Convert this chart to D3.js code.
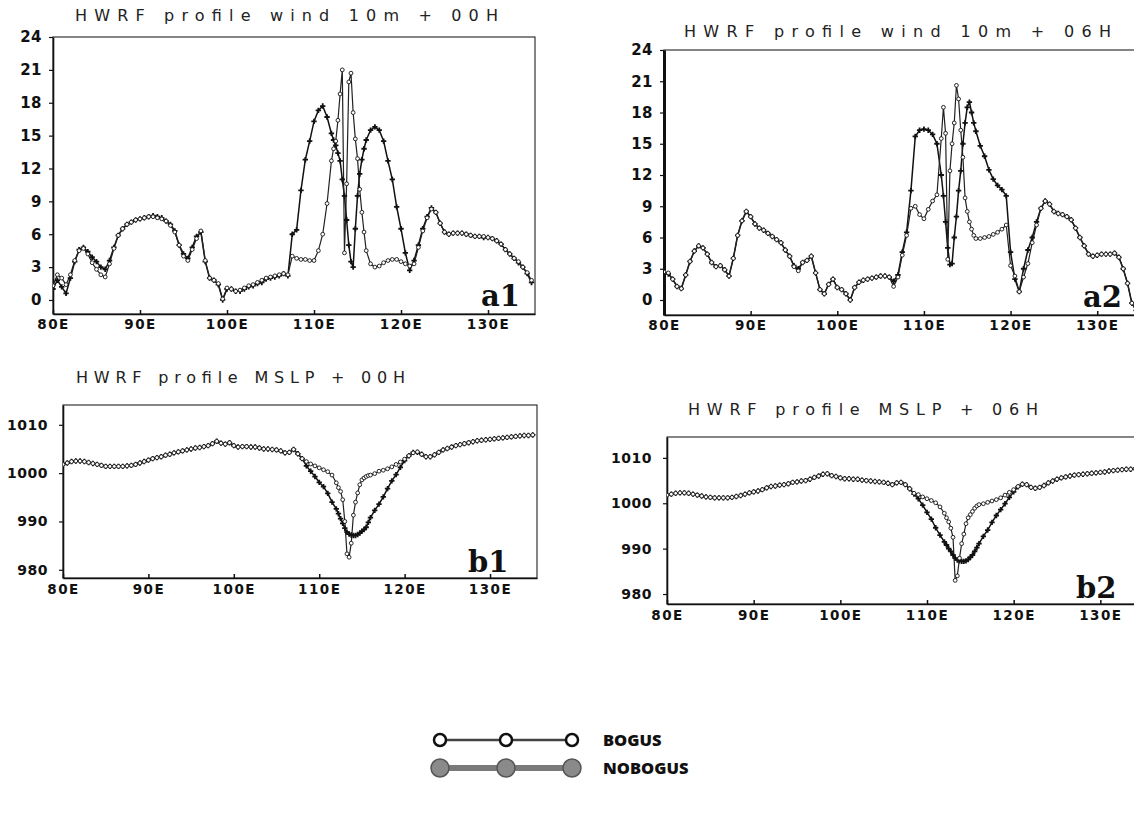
<!DOCTYPE html>
<html><head><meta charset="utf-8">
<script src="https://cdn.jsdelivr.net/npm/d3@7"></script>
<style>body{margin:0;background:#fff}svg{display:block}</style>
</head><body>
<script>
// ---------------- DATA ----------------
const lon = [80,80.5,81,81.5,82,82.5,83,83.5,84,84.5,
85,85.5,86,86.5,87,87.5,88,88.5,89,89.5,
90,90.5,91,91.5,92,92.5,93,93.5,94,94.5,
95,95.5,96,96.5,97,97.5,98,98.5,99,99.5,
100,100.5,101,101.5,102,102.5,103,103.5,104,104.5,
105,105.5,106,106.5,107,107.5,108,108.5,109,109.5,
110,110.5,111,111.5,112,112.25,112.5,112.75,113,113.25,
113.5,113.75,114,114.25,114.5,114.75,115,115.25,115.5,115.75,
116,116.5,117,117.5,118,118.5,119,119.5,120,120.5,
121,121.5,122,122.5,123,123.5,124,124.5,125,125.5,
126,126.5,127,127.5,128,128.5,129,129.5,130,130.5,
131,131.5,132,132.5,133,133.5,134,134.5,135];

const lonTicks = [80,90,100,110,120,130];
const windTicks = [0,3,6,9,12,15,18,21,24];
const mslpTicks = [980,990,1000,1010];
const seriesNames = ["BOGUS","NOBOGUS"];

// wind 10m +00H
const windA1Nobogus = [1.0,1.8,1.2,0.6,2.0,3.5,4.6,4.8,4.4,3.9,
3.5,3.0,2.8,3.6,4.8,5.9,6.5,6.9,7.1,7.3,
7.4,7.5,7.6,7.7,7.6,7.5,7.2,6.9,6.3,5.0,
4.2,3.8,4.8,5.8,6.2,3.5,2.0,1.8,1.4,0.0,
1.0,1.0,0.8,0.8,1.0,1.2,1.3,1.5,1.6,1.9,
2.0,2.1,2.2,2.4,2.2,6.0,6.4,10.0,12.8,14.5,
16.3,17.3,17.7,16.7,15.2,14.6,14.1,13.4,12.7,11.0,
9.5,7.3,5.0,3.5,3.0,6.5,9.5,11.5,12.8,13.8,
14.6,15.5,15.8,15.5,14.5,12.7,11.0,8.5,6.5,4.3,
2.7,3.6,5.0,6.5,7.6,8.4,8.0,7.0,6.2,6.0,
6.1,6.1,6.1,6.0,5.9,5.8,5.8,5.7,5.7,5.6,
5.4,5.1,4.6,4.2,3.8,3.4,3.0,2.4,1.6];
const windA1Bogus = [1.3,2.3,2.0,1.4,2.3,3.6,4.5,4.7,4.2,3.4,
2.8,2.3,2.1,3.3,4.7,5.9,6.5,6.9,7.1,7.3,
7.4,7.5,7.6,7.6,7.5,7.4,7.2,6.8,6.2,5.0,
4.0,3.6,4.6,5.6,6.3,3.6,2.0,1.8,1.5,0.1,
1.1,1.0,0.8,0.9,1.1,1.3,1.4,1.6,1.8,2.0,
2.1,2.2,2.3,2.4,2.3,4.0,3.8,3.7,3.7,3.6,
3.6,4.5,6.0,8.8,12.7,13.8,14.5,16.4,18.8,21.0,
4.3,10.6,19.9,20.7,17.1,14.7,12.9,10.1,8.0,6.2,
4.5,3.3,3.0,3.1,3.4,3.6,3.7,3.7,3.5,3.3,
3.1,3.3,4.8,6.3,7.5,8.3,8.0,7.0,6.2,6.0,
6.1,6.1,6.1,6.0,5.9,5.8,5.8,5.8,5.7,5.6,
5.4,5.1,4.6,4.2,3.8,3.5,3.0,2.5,1.8];

// wind 10m +06H
const windA2Nobogus = [2.6,2.5,2.0,1.3,1.1,2.4,3.7,4.7,5.2,5.0,
4.4,3.6,3.2,3.3,2.9,2.3,4.0,6.2,7.6,8.5,
8.0,7.3,6.9,6.7,6.4,6.1,5.8,5.5,4.8,4.2,
3.3,3.0,3.6,3.8,4.2,2.6,1.0,0.6,1.5,2.0,
1.2,1.0,0.6,0.0,1.2,1.7,1.9,2.0,2.1,2.2,
2.3,2.3,2.2,1.8,2.4,4.6,6.5,10.5,15.7,16.3,
16.4,16.3,15.9,15.0,12.0,10.0,7.5,5.0,3.4,3.5,
6.0,8.0,10.5,12.4,15.0,17.0,18.5,19.0,18.0,17.0,
16.2,14.8,13.8,12.5,11.6,11.0,10.6,10.0,4.6,2.0,
0.8,3.0,4.8,6.0,7.5,8.8,9.5,9.2,8.5,8.3,
8.2,8.0,7.7,6.9,6.0,5.2,4.4,4.2,4.3,4.4,
4.4,4.4,4.5,4.1,3.0,1.6,-0.3,-1.0,-1.5];
const windA2Bogus = [2.7,2.6,2.0,1.3,1.1,2.4,3.7,4.7,5.2,5.0,
4.4,3.6,3.2,3.3,2.9,2.3,4.0,6.2,7.6,8.5,
8.0,7.3,6.9,6.7,6.4,6.1,5.8,5.5,4.8,4.2,
3.2,2.8,3.6,3.8,4.2,2.6,1.0,0.6,1.5,2.0,
1.2,1.0,0.6,0.0,1.2,1.7,1.9,2.0,2.1,2.2,
2.3,2.3,2.2,1.3,2.2,4.3,6.2,8.8,9.0,8.2,
7.8,8.7,9.5,10.1,15.5,18.5,16.0,3.9,12.4,15.0,
17.0,20.6,19.3,16.3,13.7,9.8,8.5,7.5,6.8,6.2,
5.9,5.9,6.0,6.1,6.3,6.5,6.8,7.2,3.3,2.3,
0.8,2.2,3.5,5.5,7.2,8.8,9.5,9.2,8.5,8.3,
8.2,8.0,7.7,6.9,6.0,5.2,4.4,4.2,4.3,4.4,
4.4,4.4,4.5,4.1,3.0,1.6,-0.3,-1.0,-1.5];

// MSLP +00H
const mslpB1Nobogus = [1001.8,1002.1,1002.4,1002.5,1002.5,1002.4,1002.2,1002.0,1001.8,1001.6,
1001.4,1001.4,1001.4,1001.4,1001.4,1001.5,1001.6,1001.8,1002.1,1002.4,
1002.7,1003.0,1003.2,1003.4,1003.7,1003.9,1004.2,1004.4,1004.6,1004.8,
1005.0,1005.2,1005.3,1005.5,1005.7,1006.1,1006.6,1006.2,1006.0,1006.3,
1005.7,1005.4,1005.5,1005.5,1005.4,1005.4,1005.2,1005.0,1005.0,1004.9,
1004.8,1004.6,1004.2,1004.3,1004.9,1004.0,1003.0,1001.5,1000.4,999.3,
998.1,997.2,995.8,994.0,992.6,991.6,990.6,989.6,988.6,987.8,
987.4,987.2,987.1,987.1,987.3,987.6,988.0,988.3,988.8,989.8,
990.8,992.3,993.6,995.1,996.8,998.4,999.7,1001.2,1002.6,1003.6,
1004.3,1004.3,1003.9,1003.4,1003.4,1003.8,1004.3,1004.8,1005.1,1005.4,
1005.7,1005.9,1006.1,1006.3,1006.5,1006.7,1006.8,1006.9,1007.0,1007.1,
1007.2,1007.3,1007.4,1007.5,1007.6,1007.7,1007.8,1007.8,1007.9];
const mslpB1Bogus = [1001.8,1002.1,1002.4,1002.5,1002.5,1002.4,1002.2,1002.0,1001.8,1001.6,
1001.4,1001.4,1001.4,1001.4,1001.4,1001.5,1001.6,1001.8,1002.1,1002.4,
1002.7,1003.0,1003.2,1003.4,1003.7,1003.9,1004.2,1004.4,1004.6,1004.8,
1005.0,1005.2,1005.3,1005.5,1005.7,1006.1,1006.6,1006.2,1006.0,1006.3,
1005.7,1005.4,1005.5,1005.5,1005.4,1005.4,1005.2,1005.0,1005.0,1004.9,
1004.8,1004.6,1004.2,1004.3,1004.9,1004.0,1003.0,1002.4,1001.9,1001.5,
1001.1,1000.7,1000.3,999.6,998.0,997.0,996.2,994.5,990.0,983.3,
982.6,985.5,991.3,994.0,995.9,997.6,998.6,999.0,999.3,999.5,
999.6,999.9,1000.4,1000.6,1000.9,1001.3,1001.8,1002.3,1002.9,1003.6,
1004.2,1004.4,1003.9,1003.4,1003.4,1003.8,1004.3,1004.8,1005.1,1005.4,
1005.7,1005.9,1006.1,1006.3,1006.5,1006.7,1006.8,1006.9,1007.0,1007.1,
1007.2,1007.3,1007.4,1007.5,1007.6,1007.7,1007.8,1007.8,1007.9];

// MSLP +06H
const mslpB2Nobogus = [1001.8,1002.0,1002.2,1002.3,1002.3,1002.2,1002.0,1001.8,1001.6,1001.4,
1001.3,1001.2,1001.2,1001.2,1001.2,1001.3,1001.5,1001.7,1002.0,1002.3,
1002.5,1002.7,1003.0,1003.4,1003.7,1003.8,1004.0,1004.1,1004.3,1004.6,
1004.7,1004.9,1005.0,1005.3,1005.7,1006.0,1006.4,1006.5,1006.1,1005.9,
1005.6,1005.4,1005.4,1005.3,1005.3,1005.1,1005.0,1004.9,1004.8,1004.7,
1004.6,1004.4,1004.1,1004.5,1004.6,1004.1,1003.2,1002.0,1001.0,999.6,
998.0,996.5,994.6,993.0,991.5,990.8,990.0,989.4,988.6,987.9,
987.5,987.3,987.2,987.2,987.3,987.6,988.1,988.6,989.4,990.2,
991.1,992.7,994.1,995.8,997.3,998.6,999.9,1001.3,1002.5,1003.6,
1004.2,1004.1,1003.5,1003.3,1003.5,1003.9,1004.5,1004.9,1005.3,1005.6,
1005.8,1006.0,1006.2,1006.3,1006.4,1006.5,1006.6,1006.7,1006.8,1006.9,
1007.1,1007.2,1007.3,1007.4,1007.5,1007.5,1007.6,1007.7,1007.7];
const mslpB2Bogus = [1001.8,1002.0,1002.2,1002.3,1002.3,1002.2,1002.0,1001.8,1001.6,1001.4,
1001.3,1001.2,1001.2,1001.2,1001.2,1001.3,1001.5,1001.7,1002.0,1002.3,
1002.5,1002.7,1003.0,1003.4,1003.7,1003.8,1004.0,1004.1,1004.3,1004.6,
1004.7,1004.9,1005.0,1005.3,1005.7,1006.0,1006.4,1006.5,1006.1,1005.9,
1005.6,1005.4,1005.4,1005.3,1005.3,1005.1,1005.0,1004.9,1004.8,1004.7,
1004.6,1004.4,1004.1,1004.5,1004.6,1004.1,1003.2,1002.2,1001.9,1001.4,
1001.0,1000.6,1000.1,999.2,997.8,996.8,995.9,994.5,992.5,983.0,
984.0,987.9,991.1,993.2,995.5,996.8,997.5,998.2,998.9,999.4,
999.7,999.9,1000.2,1000.5,1000.8,1001.2,1001.8,1002.4,1003.0,1003.7,
1004.2,1004.1,1003.5,1003.3,1003.5,1003.9,1004.5,1004.9,1005.3,1005.6,
1005.8,1006.0,1006.2,1006.3,1006.4,1006.5,1006.6,1006.7,1006.8,1006.9,
1007.1,1007.2,1007.3,1007.4,1007.5,1007.5,1007.6,1007.7,1007.7];

// ---------------- LAYOUT ----------------
const panels = [
  {id:"a1", title:"HWRF profile wind 10m + 00H", tag:"a1", nob:windA1Nobogus, bog:windA1Bogus,
   xDomain:[80,135.4], xRange:[53,535], yDomain:[-1.28,24], yRange:[314,37], yTicks:windTicks,
   titleX:[75,498], titleY:21, tagX:481, tagY:306, xLabY:329, leftW:1.6, yFont:15, yPad:7},
  {id:"a2", title:"HWRF profile wind 10m + 06H", tag:"a2", nob:windA2Nobogus, bog:windA2Bogus,
   xDomain:[80,135.4], xRange:[664,1144], yDomain:[-1.44,24], yRange:[315,50], yTicks:windTicks,
   titleX:[684,1111], titleY:37, tagX:1083, tagY:307, xLabY:330, leftW:3, yFont:15, yPad:7},
  {id:"b1", title:"HWRF profile MSLP + 00H", tag:"b1", nob:mslpB1Nobogus, bog:mslpB1Bogus,
   xDomain:[80,135.5], xRange:[63,537], yDomain:[978.3,1014.1], yRange:[578,405], yTicks:mslpTicks,
   titleX:[76,405], titleY:383, tagX:468, tagY:572, xLabY:594, leftW:1.6, yFont:14, yPad:11},
  {id:"b2", title:"HWRF profile MSLP + 06H", tag:"b2", nob:mslpB2Nobogus, bog:mslpB2Bogus,
   xDomain:[80,135.5], xRange:[667,1148], yDomain:[977.8,1014.6], yRange:[604,437], yTicks:mslpTicks,
   titleX:[688,1038], titleY:415, tagX:1076, tagY:598, xLabY:620, leftW:1.6, yFont:14, yPad:11}
];

const svg = d3.select("body").append("svg")
  .attr("width",1134).attr("height",813)
  .style("font-family","'DejaVu Sans', 'Liberation Sans', sans-serif");

svg.append("rect").attr("width",1134).attr("height",813).attr("fill","#fff");

const cross = d3.symbol().type(d3.symbolCross).size(16);

panels.forEach(p => {
  const x = d3.scaleLinear().domain(p.xDomain).range(p.xRange);
  const y = d3.scaleLinear().domain(p.yDomain).range(p.yRange);
  const g = svg.append("g");

  // title
  g.append("text").text(p.title)
    .attr("x",p.titleX[0]).attr("y",p.titleY)
    .attr("textLength",p.titleX[1]-p.titleX[0]).attr("lengthAdjust","spacing")
    .attr("font-size",16).attr("fill","#222").attr("font-weight","normal");

  // frame
  g.append("rect")
    .attr("x",p.xRange[0]).attr("y",p.yRange[1])
    .attr("width",p.xRange[1]-p.xRange[0]).attr("height",p.yRange[0]-p.yRange[1])
    .attr("fill","none").attr("stroke","#222").attr("stroke-width",1.1);

  // y axis
  const ya = g.append("g").attr("transform",`translate(${p.xRange[0]},0)`)
    .call(d3.axisLeft(y).tickValues(p.yTicks).tickSizeInner(4).tickSizeOuter(0).tickPadding(p.yPad).tickFormat(d3.format("d")));
  ya.select(".domain").attr("stroke","#111").attr("stroke-width",p.leftW);
  ya.selectAll(".tick line").attr("stroke","#111").attr("stroke-width",1.2);
  ya.selectAll(".tick text").attr("font-size",p.yFont).attr("font-weight","bold")
    .attr("fill","#111").attr("font-family","'DejaVu Sans', sans-serif").attr("letter-spacing","0.5px");

  // x axis
  const xa = g.append("g").attr("transform",`translate(0,${p.yRange[0]})`)
    .call(d3.axisBottom(x).tickValues(lonTicks).tickSizeInner(-4).tickSizeOuter(0).tickPadding(0).tickFormat(d => d + "E"));
  xa.select(".domain").attr("stroke","#111").attr("stroke-width",1.4);
  xa.selectAll(".tick line").attr("stroke","#111").attr("stroke-width",1.5);
  xa.selectAll(".tick text").attr("font-size",13.5).attr("font-weight","bold")
    .attr("fill","#111").attr("font-family","'DejaVu Sans', sans-serif").attr("letter-spacing","1.5px")
    .attr("y",p.xLabY - p.yRange[0]).attr("dy",null);

  // clip
  const clipId = "clip-"+p.id;
  svg.append("clipPath").attr("id",clipId).append("rect")
    .attr("x",p.xRange[0]).attr("y",p.yRange[1]-4)
    .attr("width",p.xRange[1]-p.xRange[0]).attr("height",p.yRange[0]-p.yRange[1]+4);
  const plot = g.append("g").attr("clip-path",`url(#${clipId})`);

  const line = d3.line().x((d,i)=>x(lon[i])).y(d=>y(d));

  plot.append("path").datum(p.nob).attr("d",line)
    .attr("fill","none").attr("stroke","#111").attr("stroke-width",1.5);
  plot.append("path").datum(p.bog).attr("d",line)
    .attr("fill","none").attr("stroke","#222").attr("stroke-width",1.2);

  plot.selectAll(".nobm").data(p.nob).join("path")
    .attr("transform",(d,i)=>`translate(${x(lon[i])},${y(d)})`)
    .attr("d",cross).attr("fill","#111");
  plot.selectAll(".bogm").data(p.bog).join("circle")
    .attr("cx",(d,i)=>x(lon[i])).attr("cy",d=>y(d)).attr("r",1.9)
    .attr("fill","#fff").attr("stroke","#111").attr("stroke-width",0.9);

  // panel tag
  g.append("text").text(p.tag).attr("x",p.tagX).attr("y",p.tagY)
    .attr("font-family","'DejaVu Serif', 'Liberation Serif', serif")
    .attr("font-weight","bold").attr("font-size",29).attr("fill","#111");
});

// ---------------- LEGEND ----------------
const legendX = [440,506,572];
const leg = svg.append("g");
// BOGUS
leg.append("line").attr("x1",legendX[0]).attr("x2",legendX[2]).attr("y1",740).attr("y2",740)
  .attr("stroke","#444").attr("stroke-width",2.5);
leg.selectAll(".lb").data(legendX).join("circle")
  .attr("cx",d=>d).attr("cy",740).attr("r",6)
  .attr("fill","#fff").attr("stroke","#111").attr("stroke-width",2.5);
leg.append("text").text(seriesNames[0]).attr("x",603).attr("y",746)
  .attr("font-family","'Open Sans', sans-serif").attr("font-weight",800).attr("font-size",16.5).attr("fill","#111");
// NOBOGUS
leg.append("line").attr("x1",legendX[0]).attr("x2",legendX[2]).attr("y1",768).attr("y2",768)
  .attr("stroke","#7a7a7a").attr("stroke-width",6);
leg.selectAll(".ln").data(legendX).join("circle")
  .attr("cx",d=>d).attr("cy",768).attr("r",9)
  .attr("fill","#8a8a8a").attr("stroke","#555").attr("stroke-width",1.5);
leg.append("text").text(seriesNames[1]).attr("x",603).attr("y",774)
  .attr("font-family","'Open Sans', sans-serif").attr("font-weight",800).attr("font-size",16.5).attr("fill","#111");
</script>
</body></html>
